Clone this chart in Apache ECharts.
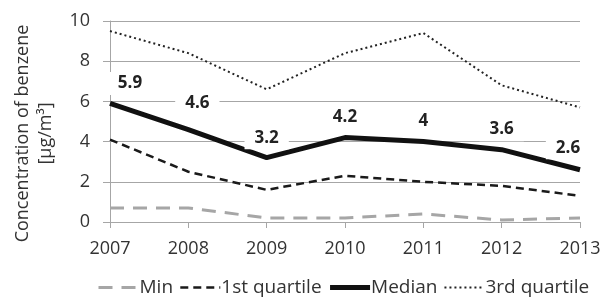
<!DOCTYPE html>
<html>
<head>
<meta charset="utf-8">
<script src="https://cdn.jsdelivr.net/npm/echarts@6/dist/echarts.min.js"></script>
<style>
  html, body { margin: 0; padding: 0; background: #fff; }
  #chart { width: 603px; height: 298px; }
</style>
</head>
<body>
<div id="chart"></div>
<script>
// Benzene concentration by year
const years = ['2007', '2008', '2009', '2010', '2011', '2012', '2013'];
const minVals = [0.7, 0.7, 0.2, 0.2, 0.4, 0.1, 0.2];
const q1Vals = [4.1, 2.5, 1.6, 2.3, 2.0, 1.8, 1.3];
const medianVals = [5.9, 4.6, 3.2, 4.2, 4.0, 3.6, 2.6];
const q3Vals = [9.5, 8.4, 6.6, 8.4, 9.4, 6.8, 5.7];

const font = '"Open Sans", sans-serif';

const chart = echarts.init(document.getElementById('chart'), null, { renderer: 'canvas' });

// shift first/last median labels so they stay inside the plot like the original
const medianData = medianVals.map((v, i) => {
    let offset = [0, 0];
    if (i === 0) offset = [20, 0];
    if (i === 1) offset = [9, -6];
    if (i === medianVals.length - 1) offset = [-12, -2];
    return { value: v, label: { offset: offset } };
});

const styles = {
    'Min': { color: '#a6a6a6', width: 3, type: [14, 9] },
    '1st quartile': { color: '#1a1a1a', width: 2.5, type: [8, 5] },
    'Median': { color: '#111', width: 5 },
    '3rd quartile': { color: '#222', width: 2, type: [2, 3] }
};

function lineSeries(name, data, z) {
    return {
        name: name,
        type: 'line',
        data: data,
        symbol: 'circle',
        symbolSize: 1,
        showSymbol: true,
        lineStyle: styles[name],
        itemStyle: { color: 'rgba(0,0,0,0)' },
        emphasis: { disabled: true },
        z: z
    };
}

const medianSeries = lineSeries('Median', medianData, 3);
medianSeries.label = {
    show: true,
    position: 'top',
    distance: 8,
    color: '#222',
    fontSize: 17,
    fontWeight: 'bold',
    fontFamily: font,
    backgroundColor: '#fff',
    padding: [3, 10]
};

const option = {
    backgroundColor: '#fff',
    animation: false,
    grid: { left: 110, right: 23, top: 21, bottom: 76, outerBoundsMode: 'none', containLabel: false },
    xAxis: {
        type: 'category',
        data: years,
        boundaryGap: false,
        axisLine: { lineStyle: { color: '#a6a6a6', width: 1 } },
        axisTick: { show: true, length: 6, alignWithLabel: true, lineStyle: { color: '#a6a6a6' } },
        axisLabel: { color: '#333', fontSize: 18, fontFamily: font, margin: 18 },
        splitLine: { show: false }
    },
    yAxis: {
        type: 'value',
        min: 0,
        max: 10,
        interval: 2,
        name: 'Concentration of benzene\n[µg/m³]',
        nameLocation: 'middle',
        nameGap: 53,
        nameRotate: 90,
        nameTextStyle: { color: '#333', fontSize: 18, fontFamily: font, lineHeight: 23, padding: [0, 24, 0, 0] },
        axisLine: { show: true, lineStyle: { color: '#a6a6a6', width: 1 } },
        axisTick: { show: true, length: 7, lineStyle: { color: '#a6a6a6' } },
        axisLabel: { color: '#333', fontSize: 18, fontFamily: font, margin: 20 },
        splitLine: { lineStyle: { color: '#a6a6a6', width: 1 } }
    },
    legend: {
        bottom: -4,
        left: 92,
        itemWidth: 40,
        itemHeight: 14,
        itemGap: 6,
        itemStyle: { opacity: 0 },
        textStyle: { color: '#333', fontSize: 19, fontFamily: font, padding: [0, 0, 0, -4] },
        data: Object.keys(styles).map(n => ({ name: n, lineStyle: { width: styles[n].width } }))
    },
    series: [
        lineSeries('Min', minVals, 2),
        lineSeries('1st quartile', q1Vals, 2),
        medianSeries,
        lineSeries('3rd quartile', q3Vals, 2)
    ]
};

chart.setOption(option);
</script>
</body>
</html>
